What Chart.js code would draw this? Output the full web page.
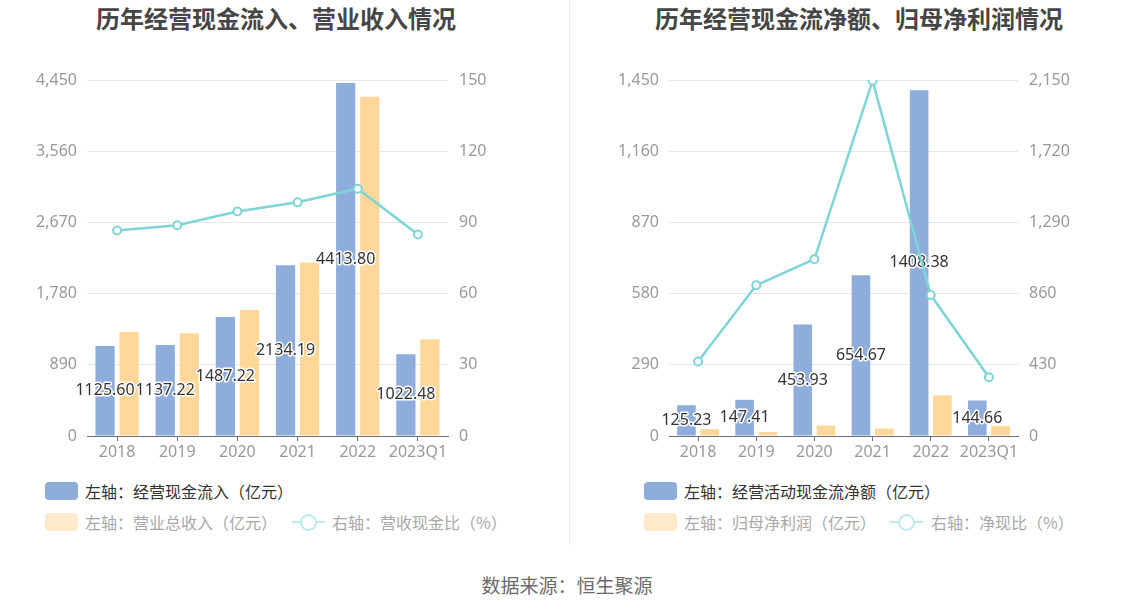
<!DOCTYPE html>
<html>
<head>
<meta charset="utf-8">
<script src="https://cdn.jsdelivr.net/npm/chart.js@4.4.1/dist/chart.umd.min.js"></script>
<style>
  html, body { margin: 0; padding: 0; background: #fff; }
  #wrap { position: relative; width: 1134px; height: 612px; overflow: hidden; font-family: "Noto Sans CJK SC", "Noto Sans", sans-serif; }
  .title { position: absolute; top: 4px; font-size: 24px; line-height: 28px; font-weight: bold; color: #464646; text-align: center; white-space: nowrap; }
  .cv { position: absolute; top: 0; }
  .divider { position: absolute; left: 569px; top: 0; width: 1px; height: 545px; background: #eeeeee; }
  .lg { position: absolute; font-size: 16px; line-height: 18px; white-space: nowrap; }
  .rect { position: absolute; width: 33px; height: 18px; border-radius: 4px; }
  .lineicon { position: absolute; width: 33px; height: 16px; }
  .lineicon .ln { position: absolute; left: 0; top: 7px; width: 33px; height: 2px; background: #bfeaea; }
  .lineicon .ci { position: absolute; left: 8px; top: 0px; width: 13px; height: 13px; border: 2px solid #bfeaea; border-radius: 50%; background: #fff; }
  .source { position: absolute; left: 0; width: 1134px; top: 572px; text-align: center; font-size: 19px; line-height: 26px; color: #6b6b6b; }
</style>
</head>
<body>
<div id="wrap">
  <div class="title" style="left:0; width:552px;">历年经营现金流入、营业收入情况</div>
  <div class="title" style="left:567px; width:584px;">历年经营现金流净额、归母净利润情况</div>
  <canvas id="c1" class="cv" style="left:0;" width="567" height="470"></canvas>
  <canvas id="c2" class="cv" style="left:567px;" width="567" height="470"></canvas>
  <div class="divider"></div>

  <div class="rect" style="left:45px; top:482px; background:#8eaddb;"></div>
  <div class="lg" style="left:85px; top:482px; color:#333;">左轴：经营现金流入（亿元）</div>
  <div class="rect" style="left:45px; top:513px; background:#ffebcc;"></div>
  <div class="lg" style="left:85px; top:513px; color:#a8a8a8;">左轴：营业总收入（亿元）</div>
  <div class="lineicon" style="left:292px; top:514px;"><div class="ln"></div><div class="ci"></div></div>
  <div class="lg" style="left:332px; top:513px; color:#a8a8a8;">右轴：营收现金比（%）</div>

  <div class="rect" style="left:644px; top:482px; background:#8eaddb;"></div>
  <div class="lg" style="left:684px; top:482px; color:#333;">左轴：经营活动现金流净额（亿元）</div>
  <div class="rect" style="left:644px; top:513px; background:#ffebcc;"></div>
  <div class="lg" style="left:684px; top:513px; color:#a8a8a8;">左轴：归母净利润（亿元）</div>
  <div class="lineicon" style="left:890px; top:514px;"><div class="ln"></div><div class="ci"></div></div>
  <div class="lg" style="left:931px; top:513px; color:#a8a8a8;">右轴：净现比（%）</div>

  <div class="source">数据来源：恒生聚源</div>
</div>
<script>
// ---- data ----
const categories = ['2018', '2019', '2020', '2021', '2022', '2023Q1'];
// left chart
const cashInflow = [1125.60, 1137.22, 1487.22, 2134.19, 4413.80, 1022.48];
const totalRevenue = [1300, 1283, 1575, 2170, 4240, 1208];
const cashRevenueRatio = [86.6, 88.8, 94.6, 98.5, 104.2, 84.9];
const leftTicksL = [0, 890, 1780, 2670, 3560, 4450];
const leftTicksR = [0, 30, 60, 90, 120, 150];
// right chart
const netOperatingCash = [125.23, 147.41, 453.93, 654.67, 1408.38, 144.66];
const netProfit = [27.8, 16.2, 42.5, 30.5, 165.5, 40.8];
const netCashRatio = [450, 910, 1068, 2146, 851, 355];
const rightTicksL = [0, 290, 580, 870, 1160, 1450];
const rightTicksR = [0, 430, 860, 1290, 1720, 2150];

const BLUE = '#8eaddb', ORANGE = '#ffd899', TEAL = '#7fd4d6';
const NUMFONT = 'Noto Sans';

const barLabelPlugin = {
  id: 'barLabel',
  afterDatasetDraw(chart, args) {
    if (args.index !== 0) return;
    const ctx = chart.ctx;
    const meta = args.meta;
    const data = chart.data.datasets[0].data;
    ctx.save();
    ctx.font = '16px "' + NUMFONT + '"';
    ctx.textAlign = 'center';
    ctx.textBaseline = 'middle';
    ctx.lineJoin = 'round';
    meta.data.forEach((el, i) => {
      const p = el.getProps(['x', 'y', 'base'], true);
      const ym = (p.y + p.base) / 2;
      const t = data[i].toFixed(2);
      ctx.lineWidth = 3;
      ctx.strokeStyle = '#fff';
      ctx.strokeText(t, p.x, ym);
      ctx.fillStyle = '#333';
      ctx.fillText(t, p.x, ym);
    });
    ctx.restore();
  }
};

function makeChart(id, bars1, bars2, line, tL, tR, leftW, rightPad) {
  const fmt = v => v.toLocaleString('en-US');
  return new Chart(document.getElementById(id), {
    type: 'bar',
    data: {
      labels: categories,
      datasets: [
        { type: 'bar', data: bars1, backgroundColor: BLUE, yAxisID: 'y', order: 1,
          categoryPercentage: 0.8, barPercentage: 0.8 },
        { type: 'bar', data: bars2, backgroundColor: ORANGE, yAxisID: 'y', order: 1,
          categoryPercentage: 0.8, barPercentage: 0.8 },
        { type: 'line', data: line, borderColor: TEAL, borderWidth: 2.5, yAxisID: 'y1', order: 0,
          pointRadius: 4, pointBorderWidth: 2, pointBackgroundColor: '#fff', pointBorderColor: TEAL,
          tension: 0, fill: false }
      ]
    },
    options: {
      responsive: false,
      animation: false,
      layout: { padding: { top: 80, left: 0, right: rightPad, bottom: 0 } },
      plugins: { legend: { display: false }, tooltip: { enabled: false }, title: { display: false } },
      scales: {
        x: {
          offset: true,
          grid: { display: true, drawOnChartArea: false, drawTicks: true, tickLength: 5, offset: false, color: '#6E7079' },
          border: { display: true, color: '#6E7079', width: 1 },
          ticks: { color: '#999', font: { family: NUMFONT, size: 16 }, padding: 2, maxRotation: 0, autoSkip: false },
          afterFit(s) { s.height = 34; }
        },
        y: {
          position: 'left', min: tL[0], max: tL[tL.length - 1],
          afterBuildTicks(s) { s.ticks = tL.map(v => ({ value: v })); },
          grid: { color: '#E3E7F1', drawTicks: false, lineWidth: 1 },
          border: { display: false },
          ticks: { color: '#999', font: { family: NUMFONT, size: 16 }, padding: 10, callback: fmt },
          afterFit(s) { s.width = leftW; }
        },
        y1: {
          position: 'right', min: tR[0], max: tR[tR.length - 1],
          afterBuildTicks(s) { s.ticks = tR.map(v => ({ value: v })); },
          grid: { drawOnChartArea: false, drawTicks: false },
          border: { display: false },
          ticks: { color: '#999', font: { family: NUMFONT, size: 16 }, padding: 11, callback: fmt },
          afterFit(s) { s.width = 60; }
        }
      }
    },
    plugins: [barLabelPlugin]
  });
}

makeChart('c1', cashInflow, totalRevenue, cashRevenueRatio, leftTicksL, leftTicksR, 87, 567 - 448 - 60);
makeChart('c2', netOperatingCash, netProfit, netCashRatio, rightTicksL, rightTicksR, 102, 567 - 451 - 60);
</script>
</body>
</html>
